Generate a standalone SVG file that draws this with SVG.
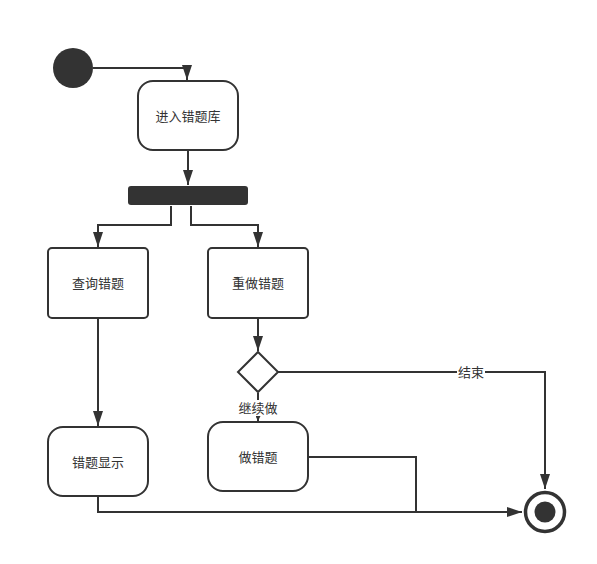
<svg xmlns="http://www.w3.org/2000/svg" width="597" height="564" viewBox="0 0 597 564">
<defs>
<marker id="arr" viewBox="0 0 15 10" refX="15" refY="5" markerWidth="15" markerHeight="10" markerUnits="userSpaceOnUse" orient="auto">
<path d="M0,0 L15,5 L0,10 Z" fill="#333"/>
</marker>
<marker id="arrs" viewBox="0 0 10 10" refX="10" refY="5" markerWidth="5" markerHeight="5" markerUnits="userSpaceOnUse" orient="auto">
<path d="M0,0 L10,5 L0,10 Z" fill="#333"/>
</marker>
</defs>
<style>
.box{fill:#fff;stroke:#333;stroke-width:2}
.t{font-family:"Noto Sans CJK SC","Liberation Sans",sans-serif;font-size:13px;fill:#333;text-anchor:middle;dominant-baseline:central}
.c{fill:none;stroke:#333;stroke-width:2}
.lbl{fill:#fff}
</style>
<rect width="597" height="564" fill="#fff"/>
<g id="connectors">
<path class="c" d="M93,68 H187 V80" marker-end="url(#arr)"/>
<path class="c" d="M188,151 V185" marker-end="url(#arr)"/>
<path class="c" d="M171,206 V225 H98 V247" marker-end="url(#arr)"/>
<path class="c" d="M191,206 V225 H258 V247" marker-end="url(#arr)"/>
<path class="c" d="M98,319 V426" marker-end="url(#arr)"/>
<path class="c" d="M258,319 V351" marker-end="url(#arr)"/>
<path class="c" d="M278,372 H545 V489" marker-end="url(#arr)"/>
<path class="c" d="M258,393 V421" marker-end="url(#arrs)"/>
<path class="c" d="M98,497 V512 H522" marker-end="url(#arr)"/>
<path class="c" d="M309,457 H416 V512"/>
<rect class="lbl" x="457" y="364" width="28" height="17"/>
<text class="t" x="471" y="371.5">结束</text>
<rect class="lbl" x="237" y="400" width="42" height="16"/>
<text class="t" x="258" y="407.5">继续做</text>
</g>
<g id="start"><circle cx="73" cy="68" r="20" fill="#333"/></g>
<g id="enter"><rect class="box" x="138" y="81" width="100" height="69" rx="15"/><text class="t" x="188" y="115">进入错题库</text></g>
<g id="fork"><rect x="128" y="186" width="120" height="19" rx="3" fill="#333"/></g>
<g id="query"><rect class="box" x="48" y="248" width="100" height="70" rx="4"/><text class="t" x="98" y="282">查询错题</text></g>
<g id="redo"><rect class="box" x="208" y="248" width="100" height="70" rx="4"/><text class="t" x="258" y="282">重做错题</text></g>
<g id="decision"><path class="box" d="M258,352 L278,372 L258,392 L238,372 Z"/></g>
<g id="show"><rect class="box" x="48" y="427" width="100" height="69" rx="15"/><text class="t" x="98" y="461">错题显示</text></g>
<g id="do"><rect class="box" x="208" y="422" width="100" height="69" rx="15"/><text class="t" x="258" y="456">做错题</text></g>
<g id="end"><circle cx="545" cy="512" r="19.5" fill="#fff" stroke="#333" stroke-width="3.5"/><circle cx="545" cy="512" r="10.5" fill="#333"/></g>
</svg>
